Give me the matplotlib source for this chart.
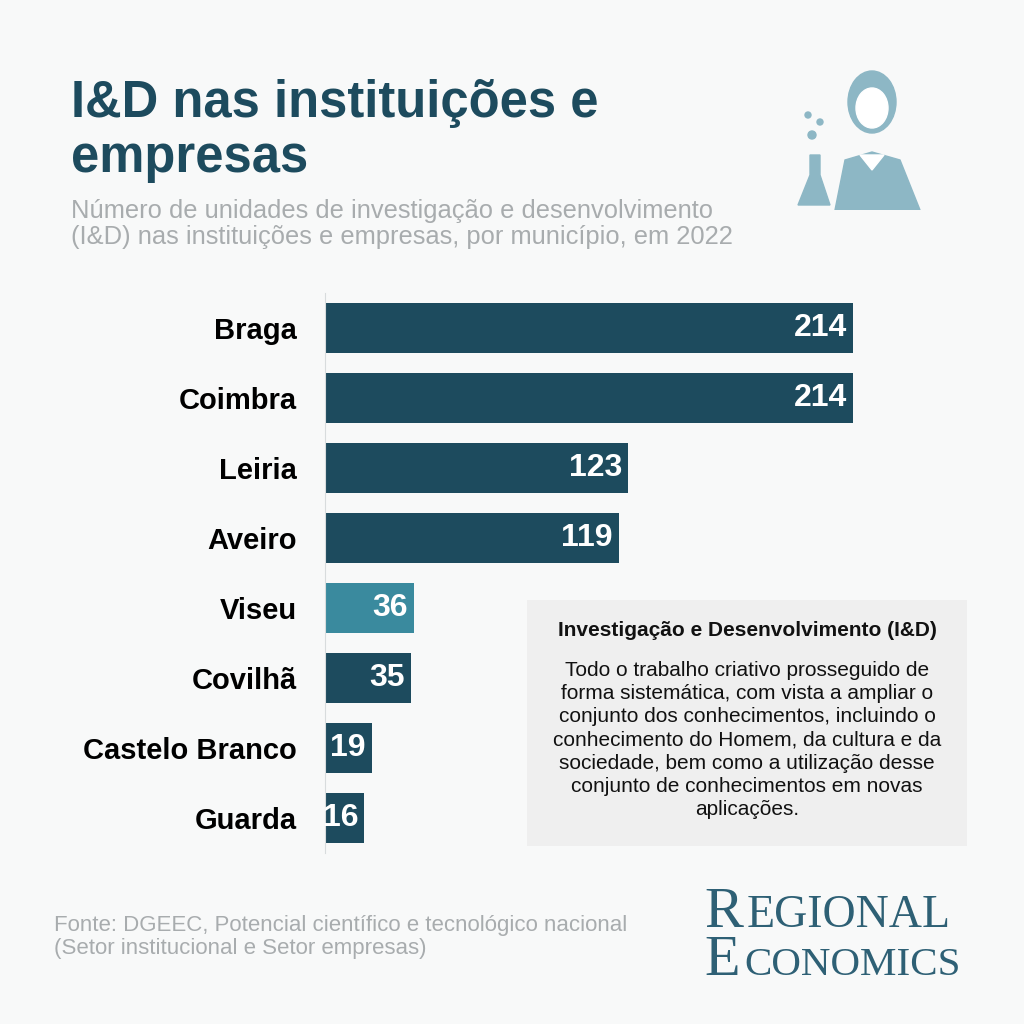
import matplotlib.pyplot as plt
from matplotlib.patches import Rectangle, Circle, Polygon, Ellipse

# data
cities = ["Braga", "Coimbra", "Leiria", "Aveiro", "Viseu", "Covilhã", "Castelo Branco", "Guarda"]
units = [214, 214, 123, 119, 36, 35, 19, 16]
highlight = "Viseu"

DARK = "#1d4b5e"
LIGHT = "#3a8a9e"
BG = "#f8f9f9"

fig = plt.figure(figsize=(10.24, 10.24), dpi=100, facecolor=BG)

# title block
fig.text(0.069, 0.872, "I&D nas instituições e\nempresas", fontsize=36.5, fontweight="bold",
         color=DARK, va="center", ha="left", linespacing=1.15, family="Liberation Sans")
fig.text(0.069, 0.781, "Número de unidades de investigação e desenvolvimento\n"
         "(I&D) nas instituições e empresas, por município, em 2022",
         fontsize=18.4, color="#a8acae", va="center", ha="left", linespacing=1.1,
         family="Liberation Sans")

# bars
ax = fig.add_axes([325 / 1024, 1 - 853 / 1024, 675 / 1024, 560 / 1024])
ax.set_facecolor("none")
y = list(range(len(cities)))[::-1]
colors = [LIGHT if c == highlight else DARK for c in cities]
ax.barh(y, units, height=0.71, color=colors)
for yi, v in zip(y, units):
    ax.text(v - 2.5, yi, str(v), color="white", fontsize=23, fontweight="bold",
            ha="right", va="center", family="Liberation Sans")
ax.set_xlim(0, 675 / (528 / 214))
ax.set_ylim(-0.5, 7.5)
ax.set_yticks(y)
ax.set_yticklabels(cities, fontsize=21, fontweight="bold", family="Liberation Sans")
ax.tick_params(axis="y", length=0, pad=20)
ax.set_xticks([])
for s in ["top", "right", "bottom"]:
    ax.spines[s].set_visible(False)
ax.spines["left"].set_color("#d8dcdd")

# definition box
fig.patches.append(Rectangle((527 / 1024, 1 - 846 / 1024), 440 / 1024, 246 / 1024,
                             transform=fig.transFigure, facecolor="#efefef", edgecolor="none"))
fig.text(747 / 1024, 1 - 630 / 1024, "Investigação e Desenvolvimento (I&D)", fontsize=15,
         fontweight="bold", ha="center", va="center", color="#111111", family="Liberation Sans")
fig.text(747 / 1024, 1 - 740 / 1024,
         "Todo o trabalho criativo prosseguido de\nforma sistemática, com vista a ampliar o\n"
         "conjunto dos conhecimentos, incluindo o\nconhecimento do Homem, da cultura e da\n"
         "sociedade, bem como a utilização desse\nconjunto de conhecimentos em novas\naplicações.",
         fontsize=15, ha="center", va="center", color="#111111", linespacing=1.28,
         family="Liberation Sans")

# source
fig.text(0.053, 0.085, "Fonte: DGEEC, Potencial científico e tecnológico nacional\n"
         "(Setor institucional e Setor empresas)", fontsize=16, color="#a8acae",
         va="center", ha="left", linespacing=1.1, family="Liberation Sans")

# logo
LOGO = "#2e6075"
fig.text(0.688, 0.095, "R", fontsize=42, color=LOGO, family="Liberation Serif", va="baseline")
fig.text(0.729, 0.095, "EGIONAL", fontsize=33, color=LOGO, family="Liberation Serif", va="baseline")
fig.text(0.688, 0.048, "E", fontsize=42, color=LOGO, family="Liberation Serif", va="baseline")
fig.text(0.727, 0.048, "CONOMICS", fontsize=29.5, color=LOGO, family="Liberation Serif", va="baseline")

# icon (scientist)
ICON = "#8db7c5"
iax = fig.add_axes([790 / 1024, 1 - 210 / 1024, 140 / 1024, 145 / 1024])
iax.set_xlim(0, 140)
iax.set_ylim(0, 145)
iax.axis("off")
iax.add_patch(Ellipse((82, 108), 48, 62, color=ICON))
iax.add_patch(Ellipse((82, 102), 32, 40, color="white"))
iax.add_patch(Polygon([(45, 0), (55, 50), (82, 58), (110, 50), (130, 0)], color=ICON))
iax.add_patch(Polygon([(70, 55), (82, 40), (94, 55)], color="white"))
iax.add_patch(Polygon([(8, 5), (40, 5), (30, 35), (30, 55), (20, 55), (20, 35)], color=ICON))
iax.add_patch(Circle((22, 75), 4, color=ICON))
iax.add_patch(Circle((30, 88), 3, color=ICON))
iax.add_patch(Circle((18, 95), 3, color=ICON))

fig.savefig("out.png", dpi=100, facecolor=BG)
